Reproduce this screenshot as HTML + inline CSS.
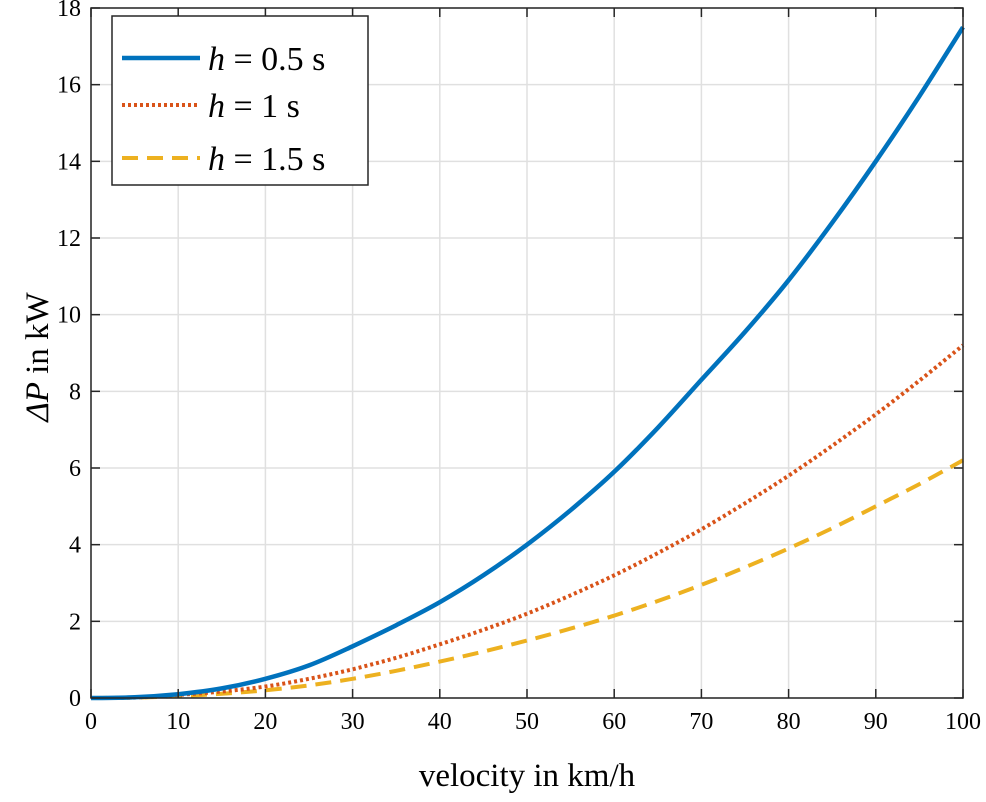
<!DOCTYPE html>
<html><head><meta charset="utf-8"><style>
body{margin:0;background:#fff;}
svg text{font-family:"Liberation Serif",serif;fill:#000;}
</style></head><body>
<svg id="chart" width="986" height="797"></svg>
<script>
const velocities=[0,5,10,15,20,25,30,35,40,45,50,55,60,65,70,75,80,85,90,95,100];
const blueVals=[0,0.02,0.1,0.25,0.5,0.85,1.35,1.9,2.5,3.2,4.0,4.9,5.9,7.05,8.3,9.55,10.9,12.4,14.0,15.7,17.5];
const redVals=[0,0.01,0.08,0.17,0.3,0.5,0.75,1.05,1.4,1.78,2.2,2.68,3.2,3.78,4.4,5.08,5.8,6.58,7.4,8.28,9.2];
const yellowVals=[0,0.01,0.05,0.11,0.2,0.33,0.5,0.71,0.95,1.21,1.5,1.81,2.15,2.53,2.95,3.41,3.9,4.43,5.0,5.58,6.2];
const xTicks=[0,10,20,30,40,50,60,70,80,90,100];
const yTicks=[0,2,4,6,8,10,12,14,16,18];
const L=91,R=963,T=8,B=698;
const xs=v=>L+(v/100)*(R-L);
const ys=v=>B-(v/18)*(B-T);
const svg=document.getElementById('chart');
const NS='http://www.w3.org/2000/svg';
function mk(tag,attrs,name){const e=document.createElementNS(NS,tag);for(const k in attrs)e.setAttribute(k,attrs[k]);


svg.appendChild(e);return e;}
function smooth(vals){
  const p=vals.map((v,i)=>[xs(velocities[i]),ys(v)]);
  let d='M'+p[0][0].toFixed(1)+','+p[0][1].toFixed(1);
  for(let i=0;i<p.length-1;i++){
    const p0=p[i-1]||p[i],p1=p[i],p2=p[i+1],p3=p[i+2]||p[i+1];
    const c1=[p1[0]+(p2[0]-p0[0])/6,p1[1]+(p2[1]-p0[1])/6];
    const c2=[p2[0]-(p3[0]-p1[0])/6,p2[1]-(p3[1]-p1[1])/6];
    d+='C'+c1.map(n=>n.toFixed(1)).join(',')+' '+c2.map(n=>n.toFixed(1)).join(',')+' '+p2.map(n=>n.toFixed(1)).join(',');
  }
  return d;
}
xTicks.forEach(t=>{mk('line',{x1:xs(t),x2:xs(t),y1:T,y2:B,stroke:'#e0e0e0','stroke-width':1.5},'x-grid-line');});
yTicks.forEach(t=>{mk('line',{x1:L,x2:R,y1:ys(t),y2:ys(t),stroke:'#e0e0e0','stroke-width':1.5},'y-grid-line');});
mk('path',{d:smooth(yellowVals),fill:'none',stroke:'#EDB120','stroke-width':4,'stroke-dasharray':'16,9'},'series-h-1.5s');
mk('path',{d:smooth(redVals),fill:'none',stroke:'#D95319','stroke-width':4,'stroke-dasharray':'3,3'},'series-h-1s');
mk('path',{d:smooth(blueVals),fill:'none',stroke:'#0072BD','stroke-width':4.5},'series-h-0.5s');
mk('rect',{x:L,y:T,width:R-L,height:B-T,fill:'none',stroke:'#262626','stroke-width':1.5},'axes-box');
xTicks.forEach(t=>{mk('line',{x1:xs(t),x2:xs(t),y1:B,y2:B-9,stroke:'#262626','stroke-width':1.5},'x-tick');
mk('line',{x1:xs(t),x2:xs(t),y1:T,y2:T+9,stroke:'#262626','stroke-width':1.5},'x-tick-top');
const tx=mk('text',{x:xs(t),y:B+31,'text-anchor':'middle','font-size':24},'x-tick-label');tx.textContent=t;});
yTicks.forEach(t=>{mk('line',{x1:L,x2:L+9,y1:ys(t),y2:ys(t),stroke:'#262626','stroke-width':1.5},'y-tick');
mk('line',{x1:R,x2:R-9,y1:ys(t),y2:ys(t),stroke:'#262626','stroke-width':1.5},'y-tick-right');
const tx=mk('text',{x:L-10,y:ys(t)+8,'text-anchor':'end','font-size':24},'y-tick-label');tx.textContent=t;});
const xl=mk('text',{x:527,y:786,'text-anchor':'middle','font-size':33},'x-axis-title');xl.textContent='velocity in km/h';
const yl=mk('text',{x:0,y:0,'text-anchor':'middle','font-size':33,transform:'translate(48,357) rotate(-90)'},'y-axis-title');
yl.innerHTML='<tspan font-style="italic">ΔP</tspan> in kW';
mk('rect',{x:112,y:16,width:256,height:169,fill:'#fff',stroke:'#262626','stroke-width':1.5},'legend-box');
const leg=[['#0072BD','',4.5,'0.5',58],['#D95319','3,3',4,'1',105],['#EDB120','16,9',4,'1.5',158]];
leg.forEach(l=>{mk('line',{x1:122,x2:200,y1:l[4],y2:l[4],stroke:l[0],'stroke-width':l[2],'stroke-dasharray':l[1]||'none'},'legend-swatch');
const t=mk('text',{x:208,y:l[4]+12,'font-size':34},'legend-label');
t.innerHTML='<tspan font-style="italic">h</tspan> = '+l[3]+' s';});
</script>
</body></html>
